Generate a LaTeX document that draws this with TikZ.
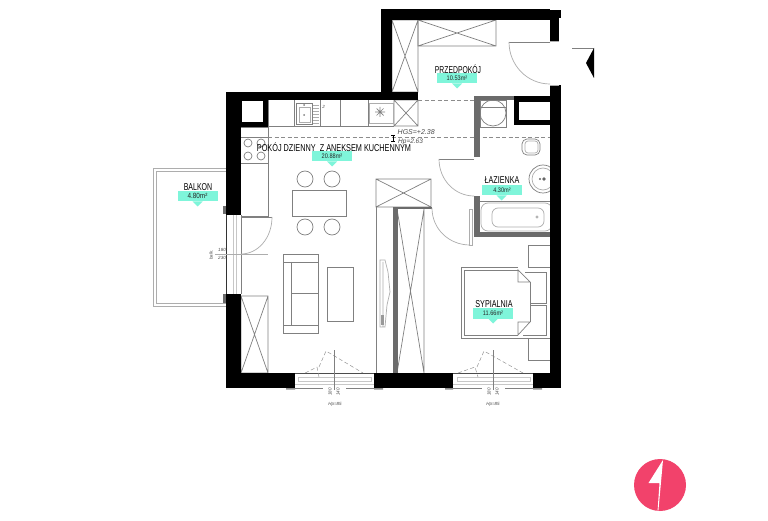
\documentclass[tikz,border=0pt]{standalone}
\usepackage{fontspec}
\setmainfont{Liberation Sans}
\newcommand{\nar}[2]{\scalebox{#1}[1]{#2}}
\tikzset{
  x=1pt,y=-1pt,
  wall/.style={fill=black,draw=none},
  gwall/.style={fill=black!58,draw=none},
  plan/.style={draw=black!50,line width=.7pt,fill=none},
  pale/.style={draw=black!32,line width=.7pt,fill=none},
  winline/.style={draw=black!22,line width=.6pt,fill=none},
  dashline/.style={draw=black!45,line width=.6pt,dash pattern=on 4pt off 2.5pt},
  badge/.style={fill=badgec,draw=none},
  roomname/.style={inner sep=0pt,font=\fontsize{10}{10}\selectfont,text=black},
  roomarea/.style={inner sep=0pt,font=\fontsize{6.6}{7}\selectfont,text=black!85},
  tinytext/.style={inner sep=0pt,font=\itshape\fontsize{4.5}{5}\selectfont,text=black!70},
}
\definecolor{badgec}{HTML}{7FF5DA}
\definecolor{logoc}{HTML}{F2426B}
\newcommand{\crossbox}[4]{\draw[plan] (#1,#2) rectangle (#3,#4) (#1,#2) -- (#3,#4) (#3,#2) -- (#1,#4);}
\newcommand{\areabadge}[2]{\fill[badge] (#1-20,#2) rectangle (#1+20,#2+10.5); \fill[badge] (#1-5,#2+10.5) -- (#1+5,#2+10.5) -- (#1,#2+15.5) -- cycle;}
\begin{document}
\begin{tikzpicture}
\useasboundingbox (0,0) rectangle (768,521);
\fill[white] (0,0) rectangle (768,521);

% balcony
\draw[pale,line width=.9pt] (226,168) -- (153,168) -- (153,306) -- (226,306);
\draw[pale] (226,171) -- (156,171) -- (156,303) -- (226,303);

% furniture
\crossbox{392}{20}{418}{92}
\crossbox{418}{20}{496}{46}
\crossbox{394}{100}{418}{126}
\crossbox{241}{296}{268}{373}
\crossbox{376}{179}{431}{207}
\draw[plan] (376,207) -- (376,373);
\draw[plan] (397,209) -- (424,373) -- (424,209) -- (397,373);

% kitchen
\draw[plan] (268,100) -- (268,216) -- (241,216);
\draw[plan] (268,126) -- (394,126);
\draw[plan] (241,127) -- (268,127) (241,137) -- (268,137) (241,163) -- (268,163);
\draw[plan] (294,100) -- (294,126) (320,100) -- (320,126) (340,100) -- (340,126) (368,100) -- (368,126);
\draw[plan] (296,103) rectangle (312,124);
\draw[pale] (299,107) rectangle (310,122);
\foreach \yy in {105,108,...,123} \draw[pale] (313,\yy) -- (319,\yy);
\fill[black!50] (304,105) circle (1pt) (304,115) circle (1pt);
\draw[pale] (369,103) rectangle (393,123);
\draw[plan] (375,112) -- (385,112) (380,107) -- (380,117) (376.5,108.5) -- (383.5,115.5) (383.5,108.5) -- (376.5,115.5);
\foreach \cx/\cy in {248/143,261/143,248/156,261/156} \draw[plan] (\cx,\cy) circle (4);
\node[tinytext] (ktwo) at (323.5,107) {2};
\draw[dashline] (268,137) -- (550,137);
\draw[dashline] (418,100) -- (474,100);

% table and chairs
\draw[plan] (292,190) rectangle (346,216);
\foreach \cx/\cy in {305/179,332/179,305/227,332/227} \draw[plan] (\cx,\cy) circle (8);

% sofa, low table, tv
\draw[plan] (283,254) rectangle (318,333);
\draw[plan] (283,262) -- (318,262) (291,262) -- (291,325) -- (318,325) (291,293) -- (318,293) (283,325) -- (291,325);
\draw[plan] (327,267) rectangle (353,321);
\draw[pale] (380,260) -- (385,260) -- (388,272) -- (390,292) -- (387,305) -- (385,327) -- (380,327) -- cycle (383,262) -- (383,327);
\fill[black!40] (381,315) rectangle (384,325);

% bathroom
\draw[plan] (480,100) rectangle (506,127) (480,107) -- (506,107);
\draw[plan] (493,113) circle (13);
\draw[plan,rounded corners=5pt] (522,139) rectangle (540,155);
\draw[pale,rounded corners=3pt] (525,141) rectangle (538,153);
\draw[plan] (543,179) circle (14);
\draw[pale] (543,179) circle (11);
\fill[black!60] (540,179) circle (1.2pt) (544,179) circle (1.8pt);
\draw[plan] (480,201) -- (550,201);
\draw[pale,rounded corners=7pt] (481,203) rectangle (552,231);
\draw[pale,rounded corners=6pt] (492,208) rectangle (544,227);
\draw[pale] (537,217) circle (1.2);

% bedroom
\draw[plan] (528,267) -- (528,245) -- (550,245) (528,267) -- (550,267);
\draw[plan] (518,267) -- (461,267) -- (461,338) -- (550,338);
\draw[plan] (518,270) -- (464,270) -- (464,335) -- (518,335);
\draw[plan] (518,270) -- (530,282) -- (518,282) -- cycle;
\draw[plan] (518,335) -- (530,322) -- (518,322) -- cycle;
\draw[plan] (530,282) -- (530,322);
\draw[plan] (525,272) -- (546,272) -- (546,303) -- (530,303);
\draw[plan] (530,305) -- (546,305) -- (546,335) -- (523,335);
\draw[plan] (528,338) -- (528,360) -- (550,360);

% walls
\fill[wall] (381,9) rectangle (550,20);
\fill[wall] (550,10) rectangle (561,18);
\fill[wall] (550,10) rectangle (559,41);
\fill[wall] (381,9) rectangle (392,100);
\fill[wall] (226,92) rectangle (418,100);
\fill[wall] (226,92) rectangle (241,215);
\fill[wall] (241,100) rectangle (268,127);
\fill[white] (242,101) rectangle (263,122);
\fill[wall] (226,294) rectangle (241,388);
\fill[wall] (226,373) rectangle (295,388);
\fill[wall] (374,373) rectangle (453,388);
\fill[wall] (533,373) rectangle (561,388);
\fill[wall] (550,85) rectangle (561,388);
\fill[wall] (514,96) rectangle (550,125);
\fill[white] (519,102) rectangle (550,120);
\fill[gwall] (474,96) rectangle (480,157);
\fill[gwall] (474,96) rectangle (514,100);
\fill[gwall] (474,196) rectangle (480,237);
\fill[gwall] (474,232) rectangle (550,237);
\fill[gwall] (393,207) rectangle (398,373);
\fill[gwall] (393,207) rectangle (432,209);
\fill[gwall] (223,206) rectangle (226,214);
\fill[gwall] (223,294) rectangle (226,303);
\fill[black!45] (286,388) rectangle (295,389.5) (374,388) rectangle (383,389.5) (445,388) rectangle (453,389.5) (533,388) rectangle (542,389.5);

% entrance door
\draw[pale] (550,41) -- (559,41) (550,85) -- (559,85);
\draw[plan] (550,42) -- (509,42);
\draw[pale] (509,42) .. controls (509,65) and (527,84) .. (550,84);
\draw[plan] (572,48) -- (594,48);
\fill[black] (594,48) -- (586,63) -- (594,78) -- cycle;

% bathroom door
\draw[plan] (439,159) -- (474,159);
\draw[pale] (439,159) .. controls (439,180) and (455,196) .. (474,196);

% bedroom door
\draw[pale] (469,209) rectangle (472,245);
\draw[pale] (432,208) .. controls (432,229) and (449,245) .. (470,245);

% balcony door
\draw[black!80,line width=.7pt] (226.5,215) -- (226.5,294);
\draw[plan] (241,215) -- (241,294);
\draw[winline] (233,215) -- (233,294) (236,215) -- (236,294);
\draw[plan] (241,217) -- (272,217);
\draw[pale] (272,217) .. controls (272,238) and (258,254) .. (241,254);
\draw[pale] (215,254) -- (268,254);
\node[tinytext] (bal180) at (222,250) {180};
\node[tinytext] (bal230) at (222,258) {230};
\node[tinytext,rotate=90] (balk) at (211,255) {balk.};

% living room window
\draw[black!70,line width=.7pt] (295,373.5) -- (374,373.5);
\draw[plan] (295,388) -- (323,388) (346,388) -- (374,388);
\draw[winline] (298,377) rectangle (371,381);
\draw[winline] (295,384) -- (374,384);
\draw[dashline,line width=.45pt] (305,373) -- (317,367) -- (319,377) (319,367) -- (326,351) -- (363,373);
\draw[plan,line width=.5pt] (334,350) -- (334,390);
\node[tinytext,rotate=90] (lw180) at (330,392) {180};
\node[tinytext,rotate=90] (lw140) at (338,392) {140};
\node[tinytext] (lwhp) at (335,404) {Hp=85};

% bedroom window
\draw[black!70,line width=.7pt] (453,373.5) -- (533,373.5);
\draw[plan] (453,388) -- (482,388) (505,388) -- (533,388);
\draw[winline] (457,377) rectangle (530,381);
\draw[winline] (453,384) -- (533,384);
\draw[dashline,line width=.45pt] (458,373) -- (475,367) -- (478,377) (477,367) -- (484,351) -- (523,373);
\draw[plan,line width=.5pt] (493,350) -- (493,390);
\node[tinytext,rotate=90] (bw180) at (489,392) {180};
\node[tinytext,rotate=90] (bw140) at (497,392) {140};
\node[tinytext] (bwhp) at (493,404) {Hp=85};

% level mark
\draw[black,line width=.8pt] (391,135) -- (395,135) (393,135) -- (393,141) (391,141) -- (395,141);
\node[tinytext,anchor=west,font=\itshape\fontsize{7}{7}\selectfont] (hgs) at (397.5,132.5) {HGS=+2.38};
\node[tinytext,anchor=west,font=\itshape\fontsize{6.5}{7}\selectfont] (hp) at (398,142) {Hp=2.63};

% labels
\areabadge{457}{73}
\areabadge{332}{151}
\areabadge{197.5}{191}
\areabadge{501.5}{185}
\areabadge{493}{308}
\node[roomname] (przed) at (458,69) {\nar{.68}{PRZEDPOKÓJ}};
\node[roomarea] (przeda) at (457,77.8) {\nar{.85}{10.53m²}};
\node[roomname] (pokoj) at (334,147) {\nar{.73}{POKÓJ DZIENNY\ \ Z ANEKSEM KUCHENNYM}};
\node[roomarea] (pokoja) at (332,155.8) {\nar{.85}{20.88m²}};
\node[roomname] (balkon) at (198,187) {\nar{.7}{BALKON}};
\node[roomarea,font=\fontsize{7.5}{8}\selectfont] (balkona) at (197.5,196.2) {\nar{.85}{4.80m²}};
\node[roomname] (lazienka) at (502,180) {\nar{.72}{ŁAZIENKA}};
\node[roomarea] (lazienkaa) at (502,189.8) {\nar{.85}{4.30m²}};
\node[roomname] (sypialnia) at (494,304) {\nar{.72}{SYPIALNIA}};
\node[roomarea] (sypialniaa) at (493,312.8) {\nar{.85}{11.66m²}};

% logo
\fill[logoc] (660,485) circle (26);
\fill[white] (663,460) -- (648.5,483) -- (659.5,483) -- (657.6,510.5) -- (658.4,510.5) -- cycle;
\end{tikzpicture}
\end{document}
